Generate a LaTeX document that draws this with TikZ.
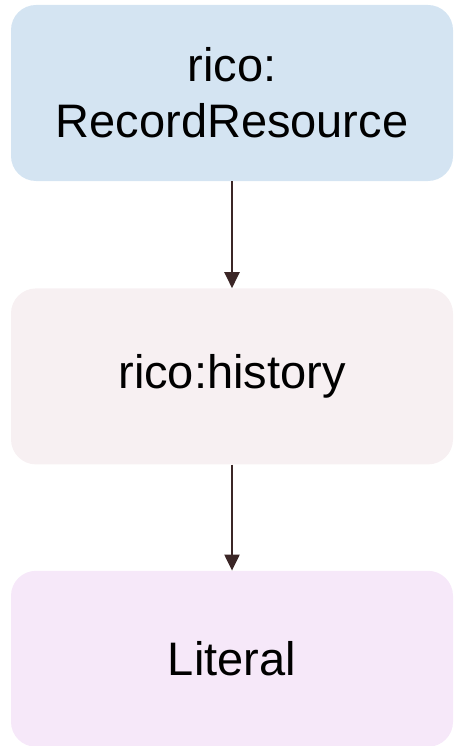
\documentclass[tikz,border=0pt]{standalone}
\usepackage{fontspec}
\setmainfont{Liberation Sans}
\usetikzlibrary{positioning,arrows.meta}

\definecolor{classblue}{HTML}{D4E4F2}
\definecolor{propgrey}{HTML}{F7F0F2}
\definecolor{litpink}{HTML}{F6E8F9}
\definecolor{arrowbrown}{HTML}{3B2626}

\tikzstyle{rdfbox}=[rounded corners=25pt, minimum width=442pt, minimum height=176pt,
  align=center, inner sep=0pt, font=\fontsize{47}{56}\selectfont]
\tikzstyle{rdfarrow}=[line width=2.2pt, arrowbrown, -{Triangle[length=16pt,width=15pt]}]

\begin{document}
\begin{tikzpicture}[x=1pt,y=1pt]
\useasboundingbox (0,0) rectangle (454,-746);

\node[rdfbox, fill=classblue] (rec) at (232,-93) {rico:\\RecordResource};
\node[rdfbox, fill=propgrey, below=107pt of rec] (hist) {rico:history};
\node[rdfbox, fill=litpink, below=106pt of hist] (lit) {Literal};

\draw[rdfarrow] (rec) -- (hist);
\draw[rdfarrow] (hist) -- (lit);
\end{tikzpicture}
\end{document}
